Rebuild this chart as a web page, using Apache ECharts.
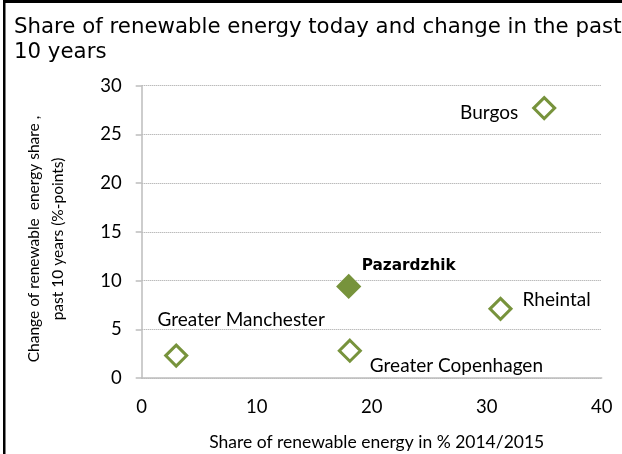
<!DOCTYPE html>
<html>
<head>
<meta charset="utf-8">
<style>
  html, body { margin: 0; padding: 0; background: #ffffff; }
  #chart { width: 622px; height: 454px; }
</style>
<script src="https://cdn.jsdelivr.net/npm/echarts@6/dist/echarts.min.js"></script>
</head>
<body>
<div id="chart"></div>
<script>
// Regions: share of renewable energy (2014/2015) vs change over the past 10 years
const regions = ['Burgos', 'Pazardzhik', 'Rheintal', 'Greater Manchester', 'Greater Copenhagen'];
const shareNow = [35.0, 18.0, 31.2, 3.0, 18.1];
const changePast10 = [27.7, 9.4, 7.1, 2.3, 2.8];
const highlighted = 'Pazardzhik';

const xTicks = { min: 0, max: 40, interval: 10 };
const yTicks = { min: 0, max: 30, interval: 5 };

const GREEN = '#77933c';

// label placement around each marker
const labelPlacement = {
  'Burgos':             { align: 'right',  offset: [-26, 5] },
  'Pazardzhik':         { align: 'left',   offset: [13, -20] },
  'Rheintal':           { align: 'left',   offset: [22, -9] },
  'Greater Manchester': { align: 'center', offset: [65, -36] },
  'Greater Copenhagen': { align: 'left',   offset: [20, 15] }
};

const points = regions.map((name, i) => {
  const isHi = name === highlighted;
  const lp = labelPlacement[name];
  return {
    name: name,
    value: [shareNow[i], changePast10[i]],
    itemStyle: {
      color: isHi ? GREEN : '#ffffff',
      borderColor: GREEN,
      borderWidth: 3,
      opacity: 1
    },
    label: {
      show: true,
      formatter: name,
      position: 'inside',
      align: lp.align,
      verticalAlign: 'middle',
      offset: lp.offset,
      color: '#000000',
      fontFamily: isHi ? 'DejaVu Sans' : 'Lato',
      fontWeight: isHi ? 'bold' : 'normal',
      fontSize: isHi ? 15.3 : 19
    }
  };
});

const chart = echarts.init(document.getElementById('chart'), null, { renderer: 'canvas' });

chart.setOption({
  animation: false,
  backgroundColor: '#ffffff',
  grid: { left: 141.7, right: 20.3, top: 85.7, bottom: 76, outerBoundsMode: 'none', containLabel: false },
  title: {
    text: 'Share of renewable energy today and change in the past\n10 years',
    left: 9,
    top: 10,
    textStyle: {
      fontFamily: 'DejaVu Sans',
      fontWeight: 'normal',
      fontSize: 21.3,
      lineHeight: 25,
      color: '#000000'
    }
  },
  xAxis: {
    type: 'value',
    min: xTicks.min, max: xTicks.max, interval: xTicks.interval,
    name: 'Share of renewable energy in % 2014/2015',
    nameLocation: 'middle',
    nameGap: 55,
    nameTextStyle: { fontFamily: 'Lato', fontSize: 17.5, color: '#000000', padding: [0, 0, 0, 10] },
    axisLine: { show: true, onZero: false, lineStyle: { color: '#bdbdbd', width: 1.5 } },
    axisTick: { show: false },
    axisLabel: { margin: 20, fontFamily: 'Lato', fontSize: 18.5, color: '#000000' },
    splitLine: { show: false }
  },
  yAxis: {
    type: 'value',
    min: yTicks.min, max: yTicks.max, interval: yTicks.interval,
    axisLine: { show: true, lineStyle: { color: '#bdbdbd', width: 1.5 } },
    axisTick: { show: true, inside: false, length: 6, lineStyle: { color: '#bdbdbd', width: 1.5 } },
    axisLabel: { margin: 20, fontFamily: 'Lato', fontSize: 18.5, color: '#000000' },
    splitLine: { show: true, lineStyle: { type: 'dotted', color: '#a0a0a0', width: 1 } }
  },
  graphic: [
    // frame edges
    { type: 'rect', left: 3, top: 0, shape: { width: 2.5, height: 454 }, style: { fill: '#000000' }, silent: true },
    { type: 'rect', left: 3, top: 0, shape: { width: 619, height: 3 }, style: { fill: '#000000' }, silent: true },
    // vertical axis title
    {
      type: 'text',
      x: 46, y: 239,
      rotation: Math.PI / 2,
      style: {
        text: 'Change of renewable  energy share ,\npast 10 years (%-points)',
        fontFamily: 'Lato',
        fontSize: 15.5,
        lineHeight: 24,
        fill: '#000000',
        align: 'center',
        verticalAlign: 'middle'
      },
      silent: true
    }
  ],
  series: [{
    type: 'scatter',
    symbol: 'diamond',
    symbolSize: 21,
    data: points
  }]
});
</script>
</body>
</html>
